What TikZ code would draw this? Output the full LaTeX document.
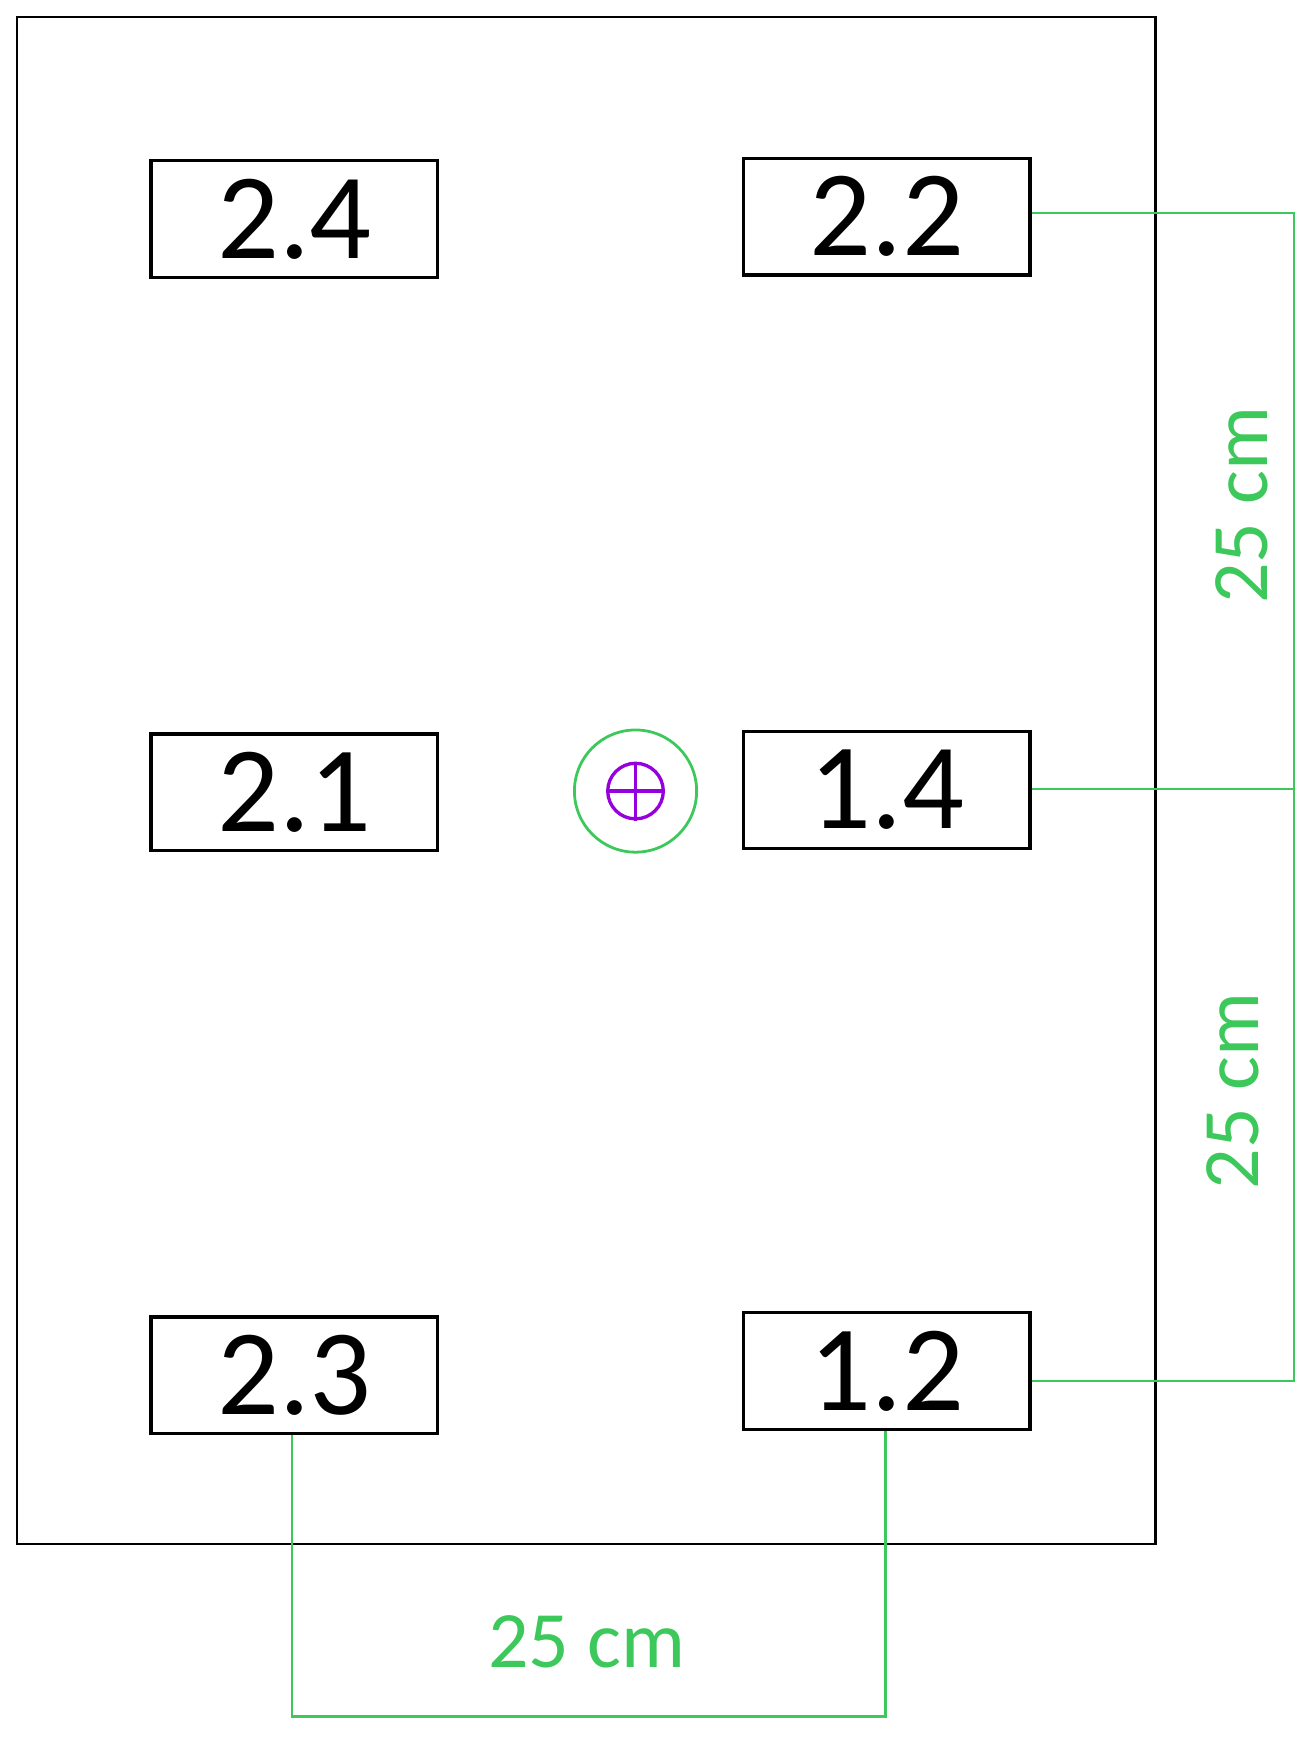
\documentclass[tikz,border=0pt]{standalone}
\usepackage{fontspec}
\setmainfont{Carlito}
\definecolor{dg}{RGB}{60,200,90}
\definecolor{pu}{RGB}{150,0,220}
\tikzset{lbl/.style={draw=black,line width=3pt,minimum width=258pt,minimum height=105pt,inner sep=0pt,font=\fontsize{110}{110}\selectfont},
dim/.style={draw=dg,line width=2pt},
dimtxt/.style={text=dg,font=\fontsize{72}{72}\selectfont}}
\begin{document}
\begin{tikzpicture}[x=1pt,y=-1pt]
\useasboundingbox (0,0) rectangle (1180,1571.5);
\draw[line width=2pt] (15,15) rectangle (1040,1390);
\node[lbl] (n24) at (265,197) {2.4};
\node[lbl] (n22) at (798,195) {2.2};
\node[lbl] (n21) at (265,713) {2.1};
\node[lbl] (n14) at (798,711) {1.4};
\node[lbl] (n23) at (265,1238) {2.3};
\node[lbl] (n12) at (798,1234) {1.2};
\node[circle,draw=dg,line width=2.5pt,minimum size=110pt] (c) at (572,712) {};
\node[circle,draw=pu,line width=3pt,minimum size=50pt] (ci) at (c) {};
\draw[pu,line width=3pt] (ci.north)--(ci.south) (ci.west)--(ci.east);
\coordinate (a) at (1165,192);
\coordinate (b) at (1165,1243);
\coordinate (m) at (1165,710);
\coordinate (p) at (263,1545);
\coordinate (q) at (797,1545);
\draw[dim] (n22.east|-a) -- (a) -- (b) -- (n12.east|-b);
\draw[dim] (n14.east|-m) -- (m);
\draw[dim] (n23.south-|p) -- (p) -- (q) -- (n12.south-|q);
\node[dimtxt,rotate=90] (t1) at (1118,455) {25 cm};
\node[dimtxt,rotate=90] (t2) at (1110,982) {25 cm};
\node[dimtxt] (t3) at (528,1478) {25 cm};
\end{tikzpicture}
\end{document}
